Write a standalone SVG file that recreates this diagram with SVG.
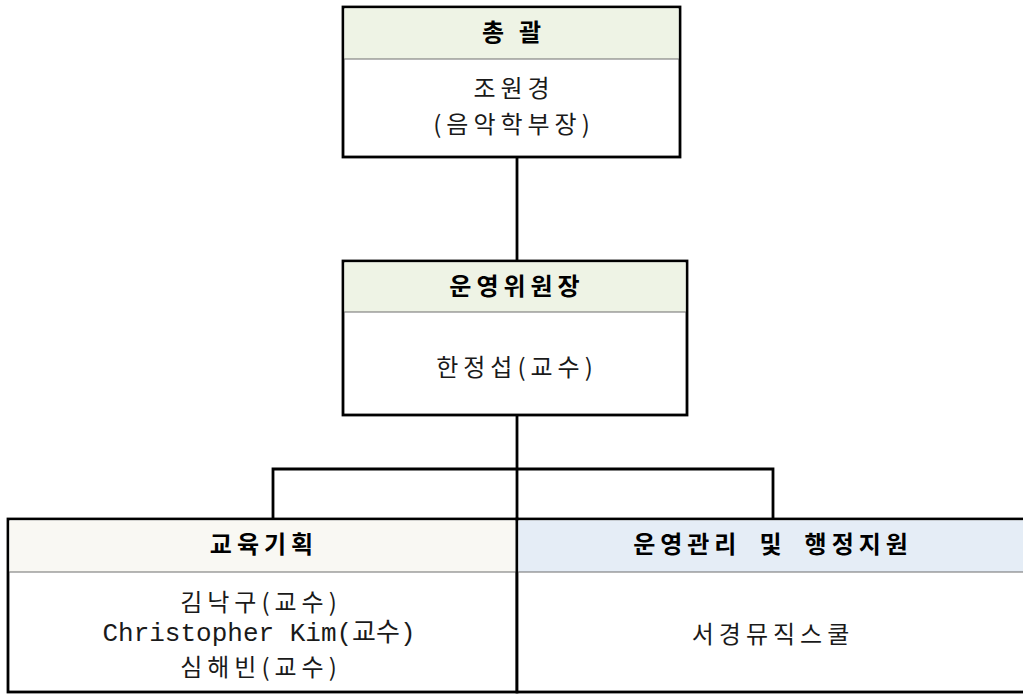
<svg xmlns="http://www.w3.org/2000/svg" width="1023" height="695" viewBox="0 0 1023 695">
<style>
.box{fill:#fff;stroke:#000;stroke-width:2.8}
.sep{stroke:#6f6f6f;stroke-width:1.2}
.conn{stroke:#000;stroke-width:2.8;fill:none}
text{font-family:'Noto Sans CJK KR','Liberation Sans',sans-serif;font-size:24px;fill:#1a1a1a;text-anchor:middle;dominant-baseline:central;letter-spacing:5px}
.h{font-weight:bold;fill:#000}
.en{font-family:'Liberation Mono','Noto Sans CJK KR',monospace;font-size:26px;letter-spacing:0}
</style>
<g id="connectors">
<path class="conn" d="M517 157V261"/>
<path class="conn" d="M517 415V519"/>
<path class="conn" d="M273 519V469H773V519"/>
</g>
<g id="node-top">
<rect class="box" x="343" y="7" width="337" height="150"/>
<rect x="344.4" y="8.4" width="334.2" height="50.6" fill="#EEF3E5"/>
<line class="sep" x1="344" y1="59" x2="679" y2="59"/>
<text class="h" x="514" y="30">총<tspan dx="10">괄</tspan></text>
<text x="514" y="86">조원경</text>
<text x="514" y="122">(음악학부장)</text>
</g>
<g id="node-committee">
<rect class="box" x="343" y="261" width="344" height="154"/>
<rect x="344.4" y="262.4" width="341.2" height="49.6" fill="#EEF3E5"/>
<line class="sep" x1="344" y1="312" x2="686" y2="312"/>
<text class="h" x="517" y="284">운영위원장</text>
<text x="517" y="365">한정섭(교수)</text>
</g>
<g id="node-edu">
<rect class="box" x="8" y="519" width="509" height="173"/>
<rect x="9.4" y="520.4" width="506.2" height="51.6" fill="#F9F8F3"/>
<line class="sep" x1="9" y1="572" x2="516" y2="572"/>
<text class="h" x="264" y="542">교육기획</text>
<text x="261" y="600">김낙구(교수)</text>
<text class="en" x="259" y="634">Christopher Kim(교수)</text>
<text x="261" y="665">심해빈(교수)</text>
</g>
<g id="node-admin">
<rect class="box" x="517" y="519" width="510" height="173"/>
<rect x="518.4" y="520.4" width="506" height="51.6" fill="#E5EDF6"/>
<line class="sep" x1="518" y1="572" x2="1023" y2="572"/>
<text class="h" x="773" y="542">운영관리<tspan dx="18">및</tspan><tspan dx="18">행정지원</tspan></text>
<text x="773" y="632">서경뮤직스쿨</text>
</g>
</svg>
